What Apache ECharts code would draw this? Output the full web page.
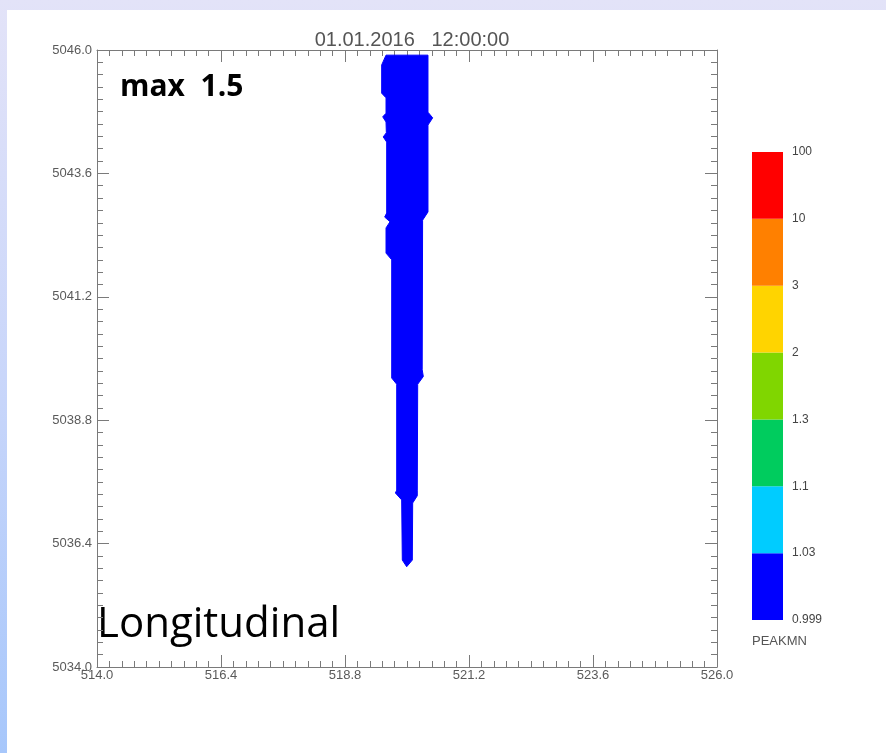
<!DOCTYPE html>
<html>
<head>
<meta charset="utf-8">
<script src="https://cdn.jsdelivr.net/npm/echarts@6/dist/echarts.min.js"></script>
<style>
  html, body { margin: 0; padding: 0; }
  body {
    width: 886px;
    height: 753px;
    position: relative;
    overflow: hidden;
    background: linear-gradient(to bottom, #e3e3f8 0%, #c9d6fa 50%, #a7c7fb 100%);
  }
  .sheet { position: absolute; left: 7px; top: 10px; right: 0; bottom: 0; background: #fff; }
  #chart { position: absolute; left: 0; top: 0; width: 886px; height: 753px; }
</style>
</head>
<body>
<div class="sheet"></div>
<div id="chart"></div>
<script>
// plume outline (x, y in map units), clockwise from the top-left corner
const plumeX = [
  519.594, 519.510, 519.510, 519.594, 519.594, 519.530, 519.594, 519.600, 519.540, 519.607,
  519.607, 519.568, 519.671, 519.594, 519.594, 519.704, 519.704, 519.801, 519.801, 519.775,
  519.897, 519.909, 519.994, 520.103, 520.110, 520.199, 520.199, 520.207, 520.316, 520.294,
  520.302, 520.406, 520.406, 520.497, 520.406, 520.406
];
const plumeY = [
  5045.90, 5045.71, 5045.16, 5045.07, 5044.77, 5044.70, 5044.60, 5044.39, 5044.31, 5044.21,
  5042.83, 5042.75, 5042.66, 5042.54, 5042.05, 5041.92, 5039.62, 5039.50, 5037.44, 5037.385,
  5037.25, 5036.08, 5035.95, 5036.08, 5037.19, 5037.33, 5037.44, 5039.50, 5039.65, 5039.78,
  5042.69, 5042.85, 5044.54, 5044.68, 5044.79, 5045.90
];

// colour scale, bottom to top
const colorbarLabels = ["0.999", "1.03", "1.1", "1.3", "2", "3", "10", "100"];
const colorbarColors = ["#0000ff", "#00ccff", "#00cc5e", "#80d600", "#ffd400", "#ff8000", "#ff0000"];
const colorbarSteps = [1, 1, 1, 1, 1, 1, 1];

const titleText = "01.01.2016   12:00:00";
const maxText = "max  1.5";
const sectionText = "Longitudinal";
const colorbarName = "PEAKMN";

const axisGray = "#7a7a7a";
const labelGray = "#5a5a5a";

function frameAxis(extra) {
  return Object.assign({
    type: "value",
    gridIndex: 0,
    interval: 2.4,
    axisLine: { show: true, onZero: false, lineStyle: { color: axisGray, width: 1 } },
    axisTick: { show: true, inside: true, length: 12, lineStyle: { color: axisGray } },
    minorTick: { show: true, splitNumber: 10, length: 6, lineStyle: { color: axisGray } },
    splitLine: { show: false },
    axisLabel: {
      color: labelGray,
      fontFamily: "Liberation Sans",
      fontSize: 13,
      formatter: (v) => v.toFixed(1),
    },
  }, extra);
}

const chart = echarts.init(document.getElementById("chart"));

chart.setOption({
  animation: false,
  backgroundColor: "transparent",
  title: {
    text: titleText,
    left: 407,
    textAlign: "center",
    top: 25,
    textStyle: { color: "#555", fontFamily: "Liberation Sans", fontWeight: "normal", fontSize: 20 },
  },
  grid: [
    { left: 97, top: 50, width: 620, height: 617 },
    { left: 752, top: 152, width: 31, height: 468 },
  ],
  xAxis: [
    frameAxis({ min: 514, max: 526, position: "bottom", axisLabel: Object.assign(frameAxis().axisLabel, { margin: 2 }) }),
    frameAxis({ min: 514, max: 526, position: "top", axisLabel: { show: false } }),
    { type: "category", gridIndex: 1, data: [colorbarName], show: false },
  ],
  yAxis: [
    frameAxis({ min: 5034, max: 5046, position: "left", axisLabel: Object.assign(frameAxis().axisLabel, { margin: 5 }) }),
    frameAxis({ min: 5034, max: 5046, position: "right", axisLabel: { show: false } }),
    {
      type: "value",
      gridIndex: 1,
      min: 0,
      max: 7,
      interval: 1,
      position: "right",
      axisLine: { show: false },
      axisTick: { show: false },
      splitLine: { show: false },
      axisLabel: {
        margin: 9,
        color: "#444",
        fontFamily: "Liberation Sans",
        fontSize: 12,
        formatter: (v) => colorbarLabels[v],
      },
    },
  ],
  graphic: [
    {
      type: "text",
      left: 120,
      top: 72,
      style: { text: maxText, fill: "#000", font: 'bold 30px "Open Sans"' },
    },
    {
      type: "text",
      left: 97,
      top: 604,
      style: { text: sectionText, fill: "#000", font: '42px "Open Sans"' },
    },
    {
      type: "text",
      left: 752,
      top: 635,
      style: { text: colorbarName, fill: "#555", font: '13px "Liberation Sans"' },
    },
  ],
  series: [
    {
      type: "custom",
      xAxisIndex: 0,
      yAxisIndex: 0,
      silent: true,
      data: [[plumeX[0], plumeY[0]]],
      renderItem: function (params, api) {
        const pts = plumeX.map((x, i) => api.coord([x, plumeY[i]]));
        return {
          type: "polygon",
          shape: { points: pts, smooth: 0 },
          style: { fill: "#0000ff", stroke: "#0000ff", lineWidth: 1 },
        };
      },
    },
  ].concat(colorbarSteps.map((step, i) => ({
    type: "bar",
    name: colorbarLabels[i] + "-" + colorbarLabels[i + 1],
    xAxisIndex: 2,
    yAxisIndex: 2,
    stack: "bar",
    barWidth: "100%",
    silent: true,
    itemStyle: { color: colorbarColors[i] },
    data: [step],
  }))),
});
</script>
</body>
</html>
